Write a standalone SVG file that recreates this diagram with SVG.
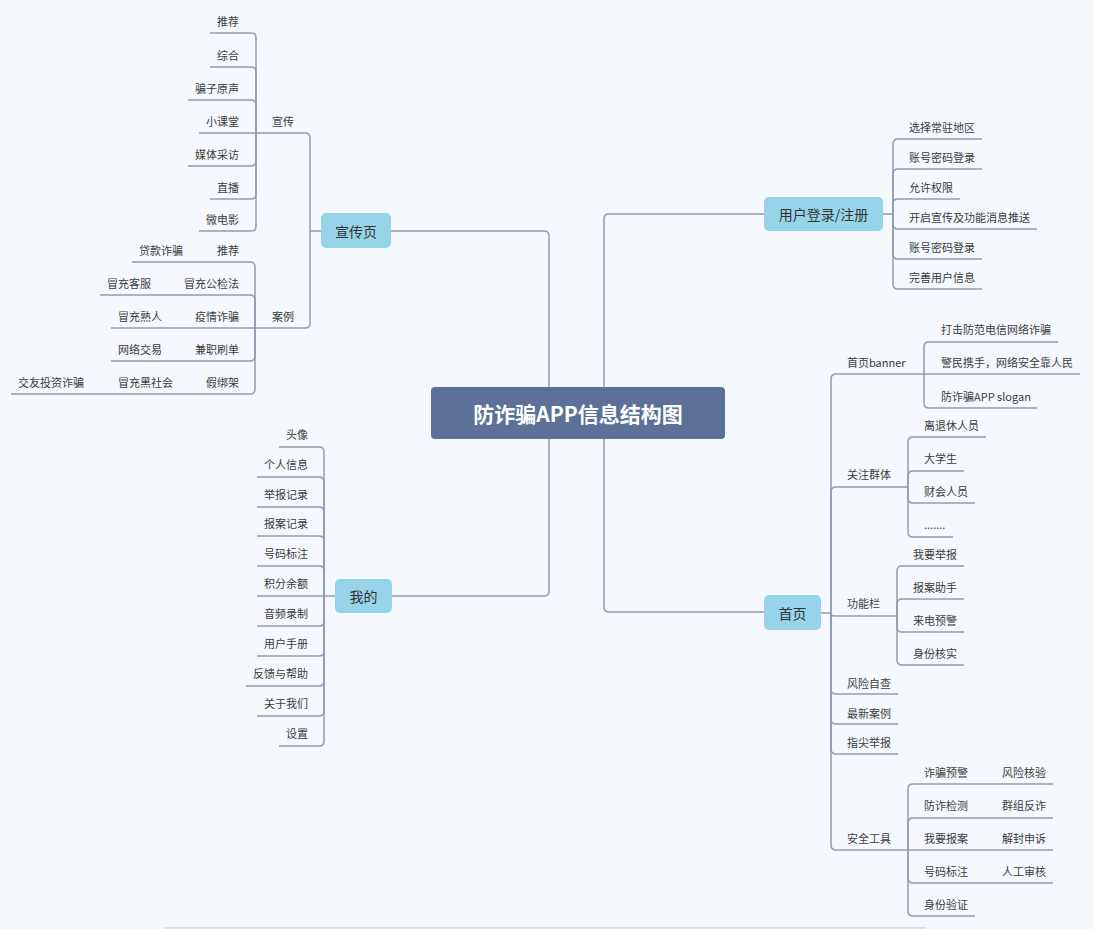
<svg xmlns="http://www.w3.org/2000/svg" width="1094" height="929" viewBox="0 0 1094 929">
<style>
.bg{fill:#f5f9fd}
.c{fill:none;stroke:#939cb0;stroke-width:1.5}
.t{font-family:"Noto Sans CJK SC","Noto Sans",sans-serif;font-size:11px;fill:#3c3c3c;dominant-baseline:central}
.e{text-anchor:end}
.m{fill:#97d3e9}
.mt{font-family:"Noto Sans CJK SC","Noto Sans",sans-serif;font-size:14px;fill:#333;text-anchor:middle;dominant-baseline:central}
.root{fill:#5b7198}
.rt{font-family:"Noto Sans CJK SC","Noto Sans",sans-serif;font-size:21px;font-weight:bold;fill:#fff;text-anchor:middle;dominant-baseline:central}
</style>
<rect class="bg" x="0" y="0" width="1094" height="929"/>
<rect x="164" y="927" width="762" height="2" fill="#dcdfe4"/>
<g id="connectors">
<!-- root to main -->
<path class="c" d="M549 387 L549 236 Q549 231 544 231 L391 231"/>
<path class="c" d="M549 439 L549 591 Q549 596 544 596 L392 596"/>
<path class="c" d="M604 387 L604 219 Q604 214 609 214 L764 214"/>
<path class="c" d="M604 439 L604 607 Q604 612 609 612 L764 612"/>
<!-- 宣传页 -->
<path class="c" d="M321 231 L310 231"/>
<path class="c" d="M310 231 L310 138 Q310 133 305 133 L256 133"/>
<path class="c" d="M310 231 L310 323 Q310 328 305 328 L255 328"/>
<!-- 宣传 children -->
<path class="c" d="M256 133 L256 38 Q256 33 251 33 L210 33"/>
<path class="c" d="M256 133 L256 72 Q256 67 251 67 L210 67"/>
<path class="c" d="M256 133 L256 105 Q256 100 251 100 L188 100"/>
<path class="c" d="M256 133 L199 133"/>
<path class="c" d="M256 133 L256 161 Q256 166 251 166 L188 166"/>
<path class="c" d="M256 133 L256 194 Q256 199 251 199 L210 199"/>
<path class="c" d="M256 133 L256 226 Q256 231 251 231 L199 231"/>
<!-- 案例 children -->
<path class="c" d="M255 328 L255 267 Q255 262 250 262 L132 262"/>
<path class="c" d="M255 328 L255 300 Q255 295 250 295 L100 295"/>
<path class="c" d="M255 328 L111 328"/>
<path class="c" d="M255 328 L255 356 Q255 361 250 361 L111 361"/>
<path class="c" d="M255 328 L255 389 Q255 394 250 394 L11 394"/>
<!-- 我的 -->
<path class="c" d="M335 596 L324 596"/>
<path class="c" d="M324 596 L324 452 Q324 447 319 447 L279 447"/>
<path class="c" d="M324 596 L324 482 Q324 477 319 477 L257 477"/>
<path class="c" d="M324 596 L324 512 Q324 507 319 507 L257 507"/>
<path class="c" d="M324 596 L324 541 Q324 536 319 536 L257 536"/>
<path class="c" d="M324 596 L324 571 Q324 566 319 566 L257 566"/>
<path class="c" d="M324 596 L257 596"/>
<path class="c" d="M324 596 L324 621 Q324 626 319 626 L257 626"/>
<path class="c" d="M324 596 L324 651 Q324 656 319 656 L257 656"/>
<path class="c" d="M324 596 L324 681 Q324 686 319 686 L246 686"/>
<path class="c" d="M324 596 L324 711 Q324 716 319 716 L257 716"/>
<path class="c" d="M324 596 L324 741 Q324 746 319 746 L279 746"/>
<!-- 用户登录/注册 -->
<path class="c" d="M883 214 L893 214"/>
<path class="c" d="M893 214 L893 144 Q893 139 898 139 L982 139"/>
<path class="c" d="M893 214 L893 174 Q893 169 898 169 L982 169"/>
<path class="c" d="M893 214 L893 204 Q893 199 898 199 L960 199"/>
<path class="c" d="M893 214 L893 224 Q893 229 898 229 L1037 229"/>
<path class="c" d="M893 214 L893 254 Q893 259 898 259 L982 259"/>
<path class="c" d="M893 214 L893 284 Q893 289 898 289 L982 289"/>
<!-- 首页 -->
<path class="c" d="M821 613 L831 613"/>
<path class="c" d="M831 613 L831 379 Q831 374 836 374 L924 374"/>
<path class="c" d="M831 613 L831 492 Q831 487 836 487 L908 487"/>
<path class="c" d="M831 613 Q831 616 834 616 L897 616"/>
<path class="c" d="M831 613 L831 689 Q831 694 836 694 L898 694"/>
<path class="c" d="M831 613 L831 719 Q831 724 836 724 L898 724"/>
<path class="c" d="M831 613 L831 749 Q831 754 836 754 L898 754"/>
<path class="c" d="M831 613 L831 845 Q831 850 836 850 L908 850"/>
<!-- 首页banner children -->
<path class="c" d="M924 374 L924 347 Q924 342 929 342 L1058 342"/>
<path class="c" d="M924 374 L1080 374"/>
<path class="c" d="M924 374 L924 403 Q924 408 929 408 L1037 408"/>
<!-- 关注群体 children -->
<path class="c" d="M908 487 L908 442 Q908 437 913 437 L986 437"/>
<path class="c" d="M908 487 L908 476 Q908 471 913 471 L964 471"/>
<path class="c" d="M908 487 L908 498 Q908 503 913 503 L975 503"/>
<path class="c" d="M908 487 L908 532 Q908 537 913 537 L953 537"/>
<!-- 功能栏 children -->
<path class="c" d="M897 616 L897 571 Q897 566 902 566 L964 566"/>
<path class="c" d="M897 616 L897 604 Q897 599 902 599 L964 599"/>
<path class="c" d="M897 616 L897 627 Q897 632 902 632 L964 632"/>
<path class="c" d="M897 616 L897 660 Q897 665 902 665 L964 665"/>
<!-- 安全工具 children -->
<path class="c" d="M908 850 L908 789 Q908 784 913 784 L1053 784"/>
<path class="c" d="M908 850 L908 823 Q908 818 913 818 L1053 818"/>
<path class="c" d="M908 850 L1053 850"/>
<path class="c" d="M908 850 L908 878 Q908 883 913 883 L1053 883"/>
<path class="c" d="M908 850 L908 911 Q908 916 913 916 L975 916"/>
</g>
<g id="root"><rect class="root" x="431" y="387" width="294" height="52" rx="4"/><text class="rt" x="578" y="413">防诈骗APP信息结构图</text></g>
<g id="n-xuanchuanye"><rect class="m" x="321" y="213" width="70" height="35" rx="5"/><text class="mt" x="356" y="230.5">宣传页</text></g>
<g id="n-wode"><rect class="m" x="335" y="579" width="57" height="34" rx="5"/><text class="mt" x="363.5" y="596">我的</text></g>
<g id="n-denglu"><rect class="m" x="764" y="197" width="119" height="34" rx="5"/><text class="mt" x="823.5" y="214">用户登录/注册</text></g>
<g id="n-shouye"><rect class="m" x="764" y="595" width="57" height="35" rx="5"/><text class="mt" x="792.5" y="612.5">首页</text></g>
<g id="n-xuanchuan"><text class="t" x="272" y="121">宣传</text></g>
<g id="n-xc-1"><text class="t e" x="239" y="21">推荐</text></g>
<g id="n-xc-2"><text class="t e" x="239" y="55">综合</text></g>
<g id="n-xc-3"><text class="t e" x="239" y="88">骗子原声</text></g>
<g id="n-xc-4"><text class="t e" x="239" y="121">小课堂</text></g>
<g id="n-xc-5"><text class="t e" x="239" y="154">媒体采访</text></g>
<g id="n-xc-6"><text class="t e" x="239" y="187">直播</text></g>
<g id="n-xc-7"><text class="t e" x="239" y="219">微电影</text></g>
<g id="n-anli"><text class="t" x="272" y="316">案例</text></g>
<g id="n-al-1"><text class="t e" x="239" y="250">推荐</text></g>
<g id="n-al-1a"><text class="t e" x="183" y="250">贷款诈骗</text></g>
<g id="n-al-2"><text class="t e" x="239" y="283">冒充公检法</text></g>
<g id="n-al-2a"><text class="t e" x="151" y="283">冒充客服</text></g>
<g id="n-al-3"><text class="t e" x="239" y="316">疫情诈骗</text></g>
<g id="n-al-3a"><text class="t e" x="162" y="316">冒充熟人</text></g>
<g id="n-al-4"><text class="t e" x="239" y="349">兼职刷单</text></g>
<g id="n-al-4a"><text class="t e" x="162" y="349">网络交易</text></g>
<g id="n-al-5"><text class="t e" x="239" y="382">假绑架</text></g>
<g id="n-al-5a"><text class="t e" x="173" y="382">冒充黑社会</text></g>
<g id="n-al-5b"><text class="t e" x="84" y="382">交友投资诈骗</text></g>
<g id="n-wd-1"><text class="t e" x="308" y="434">头像</text></g>
<g id="n-wd-2"><text class="t e" x="308" y="464">个人信息</text></g>
<g id="n-wd-3"><text class="t e" x="308" y="494">举报记录</text></g>
<g id="n-wd-4"><text class="t e" x="308" y="523">报案记录</text></g>
<g id="n-wd-5"><text class="t e" x="308" y="553">号码标注</text></g>
<g id="n-wd-6"><text class="t e" x="308" y="583">积分余额</text></g>
<g id="n-wd-7"><text class="t e" x="308" y="613">音频录制</text></g>
<g id="n-wd-8"><text class="t e" x="308" y="643">用户手册</text></g>
<g id="n-wd-9"><text class="t e" x="308" y="673">反馈与帮助</text></g>
<g id="n-wd-10"><text class="t e" x="308" y="703">关于我们</text></g>
<g id="n-wd-11"><text class="t e" x="308" y="733">设置</text></g>
<g id="n-dl-1"><text class="t" x="909" y="127">选择常驻地区</text></g>
<g id="n-dl-2"><text class="t" x="909" y="157">账号密码登录</text></g>
<g id="n-dl-3"><text class="t" x="909" y="187">允许权限</text></g>
<g id="n-dl-4"><text class="t" x="909" y="217">开启宣传及功能消息推送</text></g>
<g id="n-dl-5"><text class="t" x="909" y="247">账号密码登录</text></g>
<g id="n-dl-6"><text class="t" x="909" y="277">完善用户信息</text></g>
<g id="n-banner"><text class="t" x="847" y="362">首页banner</text></g>
<g id="n-bn-1"><text class="t" x="941" y="329">打击防范电信网络诈骗</text></g>
<g id="n-bn-2"><text class="t" x="941" y="362">警民携手，网络安全靠人民</text></g>
<g id="n-bn-3"><text class="t" x="941" y="396">防诈骗APP slogan</text></g>
<g id="n-guanzhu"><text class="t" x="847" y="474">关注群体</text></g>
<g id="n-gz-1"><text class="t" x="924" y="425">离退休人员</text></g>
<g id="n-gz-2"><text class="t" x="924" y="458">大学生</text></g>
<g id="n-gz-3"><text class="t" x="924" y="491">财会人员</text></g>
<g id="n-gz-4"><text class="t" x="924" y="524">.......</text></g>
<g id="n-gongneng"><text class="t" x="847" y="603">功能栏</text></g>
<g id="n-gn-1"><text class="t" x="913" y="554">我要举报</text></g>
<g id="n-gn-2"><text class="t" x="913" y="587">报案助手</text></g>
<g id="n-gn-3"><text class="t" x="913" y="620">来电预警</text></g>
<g id="n-gn-4"><text class="t" x="913" y="653">身份核实</text></g>
<g id="n-fengxian"><text class="t" x="847" y="683">风险自查</text></g>
<g id="n-zuixin"><text class="t" x="847" y="713">最新案例</text></g>
<g id="n-zhijian"><text class="t" x="847" y="742">指尖举报</text></g>
<g id="n-anquan"><text class="t" x="847" y="838">安全工具</text></g>
<g id="n-aq-1"><text class="t" x="924" y="772">诈骗预警</text></g>
<g id="n-aq-1a"><text class="t" x="1002" y="772">风险核验</text></g>
<g id="n-aq-2"><text class="t" x="924" y="805">防诈检测</text></g>
<g id="n-aq-2a"><text class="t" x="1002" y="805">群组反诈</text></g>
<g id="n-aq-3"><text class="t" x="924" y="838">我要报案</text></g>
<g id="n-aq-3a"><text class="t" x="1002" y="838">解封申诉</text></g>
<g id="n-aq-4"><text class="t" x="924" y="871">号码标注</text></g>
<g id="n-aq-4a"><text class="t" x="1002" y="871">人工审核</text></g>
<g id="n-aq-5"><text class="t" x="924" y="904">身份验证</text></g>
</svg>
